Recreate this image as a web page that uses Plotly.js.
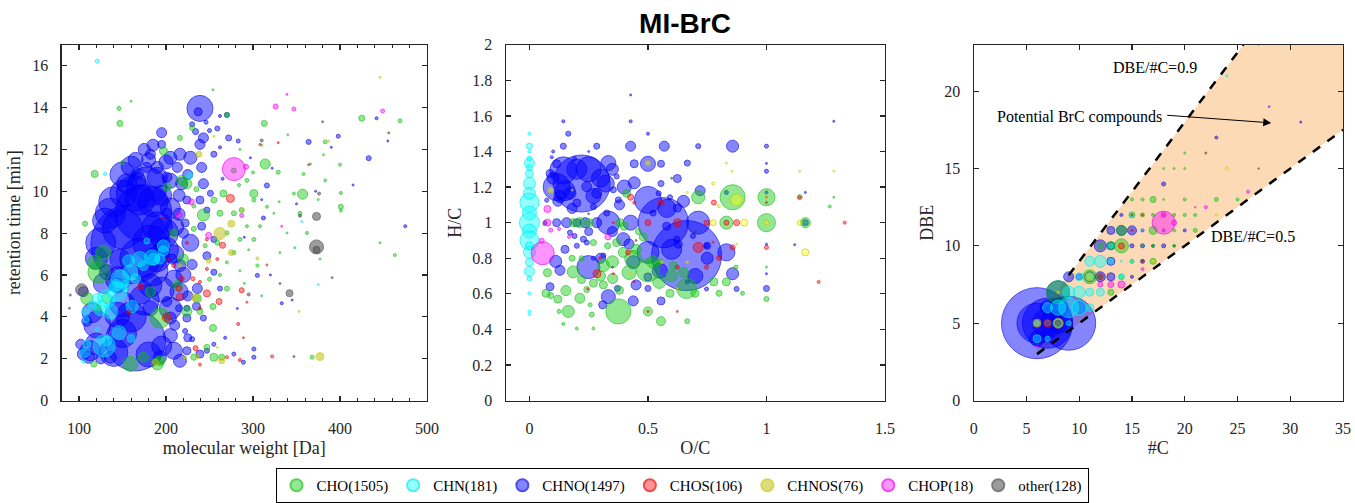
<!DOCTYPE html>
<html>
<head>
<meta charset="utf-8">
<script src="https://cdn.plot.ly/plotly-3.0.1.min.js"></script>
<style>html,body{margin:0;padding:0;background:#fff;}#chart{width:1355px;height:503px;}</style>
</head>
<body>
<div id="chart"></div>
<script>
// ---- categories ----
const SERIES = ['CHO','CHN','CHNO','CHOS','CHNOS','CHOP','other'];
const COUNTS = [1505,181,1497,106,76,18,128];

// ---- Panel 1: [molecular weight (Da), retention time (min), relative abundance] ----
const MW_RT_CHNO = [[159,7.47,79],[174,8.95,57],[178,10.2,40],[165,2.85,60],[151,9.89,27],[121,3.63,27],[113,2.38,20],[239,13.96,26],[237,13.8,8],[190,10.67,20],[197,8.01,30],[182,5.5,23],[209,5.82,17],[228,7.54,17],[216,11.77,12],[228,11.6,13],[205,11.6,13],[239,12.24,10],[243,12.55,10],[241,11.14,10],[167,10.5,17],[216,1.9,13],[209,2.38,17],[193,2.07,13],[105,2.22,12],[224,2.38,8],[239,2.22,8],[247,2.38,5],[255,2.69,4],[236,5.35,10],[241,8.33,8],[247,9.1,6],[251,9.9,6],[255,11.77,6],[272,12.55,6],[270,13.65,5],[259,13.0,5],[230,13.2,5],[283,12.4,4],[301,2.07,4],[301,2.46,4],[289,1.83,4],[278,2.22,4],[305,5.98,4],[316,10.28,5],[312,8.72,4],[364,12.36,5],[398,12.63,4],[433,11.58,5],[442,13.49,3],[475,8.33,3],[333,4.65,3],[222,3.32,5],[230,2.93,5],[224,4.41,6],[215,4.41,7],[201,4.73,10],[207,6.76,10],[216,6.45,12],[222,8.48,8],[201,8.95,10],[224,9.58,8],[201,10.67,10],[213,11.14,10],[190,11.14,12],[182,11.77,10],[195,12.24,8],[243,10.36,10],[239,9.58,8],[247,6.92,8],[255,6.13,6],[262,5.35,5],[255,7.7,6],[243,3.94,6],[224,3.94,8],[205,3.94,12],[182,4.41,15],[144,5.5,15],[132,6.13,15],[147,6.76,20],[105,5.2,10],[109,3.79,10],[111,2.07,12],[102,2.69,10],[125,1.99,10],[136,2.07,12],[167,10.83,12],[178,11.14,10],[218,10.36,12],[155,10.36,20],[170,9.58,30],[136,8.95,30],[125,7.54,30],[182,7.54,35],[190,6.76,25],[170,5.2,25],[144,4.1,25],
  [140,9.5,30],[150,10.8,25],[160,11.2,20],[185,9.5,30],[195,9.8,20],[205,9.2,20],[210,8.3,18],[200,7.2,25],[185,6.2,30],[175,4.8,30],[160,4.0,30],[150,4.6,25],[195,5.3,25],[205,4.4,22],[215,5.2,18],[220,6.0,15],[210,7.0,18],[165,11.5,15],[185,12.2,12],[195,12.8,10],[175,12.0,12],[130,8.6,25],[120,6.8,22],[128,5.6,20],[115,4.2,20],[120,2.7,22],[140,2.3,28],[180,2.2,25],[195,2.6,20],[150,3.2,28],[205,3.1,14],[170,6.8,40],[150,8.2,40],[190,8.3,30],[163,9.9,35],[145,5.8,25],[205,10.5,15],[215,9.8,12],[225,10.8,10],[215,8.9,12],[220,8.0,10],[225,5.0,10],[230,6.5,10],[235,4.5,8],[210,3.6,10],[225,3.0,8],[200,11.4,14],[180,11.5,14],
  [290,7.8,2],[320,6.0,2],[345,4.8,2],[310,9.6,2],[350,9.4,2],[297,11.6,2],[322,11.1,2],[372,10.0,2],[390,12.1,2],[415,10.3,2],[455,12.4,2],[265,10.6,3],[262,12.1,3],[268,3.0,3],[282,4.4,2],[250,12.9,4],[234,12.85,6],[246,13.3,4],[262,13.6,3]];
const MW_RT_CHO = [[118,10.83,7],[107,8.45,5],[147,13.24,6],[146,13.96,4],[150,11.38,4],[160,14.3,2],[254,14.85,2],[270,13.65,5],[313,13.24,6],[314,11.3,10],[329,10.91,4],[357,9.86,10],[301,9.89,8],[425,13.49,6],[469,13.37,4],[400,11.27,3],[401,9.92,3],[401,9.26,5],[401,9.08,3],[383,12.36,4],[383,10.52,3],[358,10.83,3],[381,11.74,2],[366,11.3,2],[463,6.95,3],[285,7.7,4],[287,9.1,5],[254,3.47,7],[254,4.49,6],[270,5.35,5],[243,8.87,12],[123,6.13,22],[128,7.07,15],[193,3.94,20],[193,1.9,10],[159,1.75,15],[218,10.52,10],[201,10.2,8],[224,10.36,10],[209,8.01,8],[220,6.76,10],[213,5.5,10],[182,5.2,10],[224,4.26,10],[236,4.88,8],[239,4.26,6],[109,4.88,12],[121,4.41,8],[197,11.93,8],[216,12.55,5],[230,13.02,5],[255,9.58,6],[262,8.95,6],[266,9.89,7],[278,10.99,5],[278,8.95,5],[293,10.52,4],[301,9.58,4],[293,8.33,3],[301,7.7,4],[308,8.33,3],[305,6.45,3],[316,9.26,3],[331,7.07,2],[324,8.95,2],[339,8.01,2],[347,9.89,3],[354,8.95,4],[362,8.01,3],[377,6.76,2],[368,2.07,4],[255,2.07,8],[264,2.07,6],[247,2.54,6],[232,2.07,6],[190,1.75,12],[174,2.07,10],[132,4.88,10],[117,1.75,6],[446,7.54,2],[270,8.01,4],[278,7.07,4],[259,7.54,5],
  [118,6.6,14],[262,6.0,3],[270,6.6,3],[285,6.2,2],[295,7.2,2],[290,5.6,2],[310,5.0,2],[250,5.8,4],[245,7.4,4],[232,8.2,5],[232,9.3,4],[284,10.3,3],[300,10.9,3],[310,12.2,2],[285,12.0,2],[340,12.7,2],[375,9.6,2],[330,9.5,2],[348,7.3,2],[235,10.1,5]];
const MW_RT_CHN = [[121,16.21,4],[130,10.83,3],[178,7.62,6],[197,7.39,12],[184,6.84,15],[170,6.76,15],[157,6.68,12],[159,6.13,15],[147,5.82,18],[144,5.2,20],[132,4.88,18],[125,4.41,15],[136,4.26,15],[161,4.49,12],[146,3.24,14],[160,2.97,8],[129,2.61,22],[107,2.3,10],[108,4.26,8],[108,3.87,6],[121,3.4,5],[227,10.75,6],[207,11.77,2],[375,5.54,2],[356,8.56,2],[142,5.5,12],[153,5.5,10],[165,5.82,10],[174,6.45,10],[186,6.76,12],[193,6.76,10],[121,4.88,10],[115,4.57,8],[132,2.85,10],[109,2.69,8],[105,1.9,4],[197,7.15,10]];
const MW_RT_CHOS = [[274,9.66,8],[265,7.42,6],[261,4.73,6],[247,5.12,7],[287,5.27,5],[201,3.97,9],[234,2.5,5],[216,4.96,7],[215,5.35,6],[171,5.45,6],[157,4.21,4],[218,5.82,5],[209,6.45,4],[231,5.82,4],[239,5.67,3],[247,6.29,3],[283,3.66,3],[285,1.94,3],[270,2.07,3],[239,1.72,3],[322,2.11,3],[316,6.48,2],[364,11.27,2],[308,12.24,2],[329,12.32,2],[293,4.7,2],[197,8.72,2],[224,7.54,3],[259,6.76,3],[247,7.7,3],[203,6.76,3],[239,4.41,3],[289,3.0,2]];
const MW_RT_CHNOS = [[262,7.98,12],[275,8.45,7],[275,7.07,6],[377,2.1,8],[238,11.77,6],[234,4.91,8],[249,6.68,5],[264,1.9,6],[188,1.83,6],[236,2.1,4],[305,6.79,3],[222,2.07,3],[288,9.1,3],[255,12.63,2],[446,15.45,2],[353,4.26,2],[259,2.54,2],[216,6.45,3],[387,12.4,2]];
const MW_RT_CHOP = [[278,11.06,23],[292,11.17,5],[229,9.5,6],[215,8.87,6],[249,7.89,6],[287,8.84,4],[326,14.05,5],[347,13.93,4],[449,13.83,4],[339,14.63,2],[333,8.33,2]];
const MW_RT_OTHER = [[373,7.34,14],[373,7.2,7],[373,8.8,8],[342,5.13,7],[103,5.29,12],[376,9.89,3],[354,8.83,3],[310,12.43,3],[295,5.07,3],[347,2.1,2],[391,5.87,2],[90,5.04,2],[89,4.41,2],[456,12.79,2],[331,5.59,2],[380,13.32,2]];

// ---- Panel 2: [O/C, H/C, relative abundance] ----
const OC_HC_CHNO = [[0.22,1.22,57],[0.663,0.815,70],[0.565,1.0,50],[0.5,1.128,27],[0.712,1.0,23],[0.143,1.294,27],[0.115,1.2,27],[0.333,1.0,23],[0.249,0.75,23],[0.5,0.833,22],[0.322,1.22,17],[0.333,1.335,15],[0.427,1.0,15],[0.396,0.907,13],[0.438,0.778,13],[0.5,1.331,15],[0.427,1.43,10],[0.569,1.43,10],[0.857,1.43,12],[0.857,0.713,12],[0.831,0.833,17],[0.442,1.224,12],[0.442,1.331,8],[0.555,1.331,7],[0.624,1.248,8],[0.666,1.335,6],[0.712,1.43,5],[1.0,1.43,4],[1.0,1.289,4],[1.0,1.333,2],[1.0,1.17,3],[1.164,1.17,2],[1.164,1.0,6],[1.0,0.63,6],[0.143,1.43,6],[0.284,1.43,6],[0.164,1.5,5],[0.143,1.57,3],[0.5,1.5,3],[0.427,1.57,3],[0.427,1.718,2],[1.284,1.57,2],[0.157,1.0,10],[0.115,1.0,8],[0.2,1.0,8],[0.235,1.0,10],[0.284,1.0,10],[0.066,1.0,4],[0.111,0.782,12],[0.129,0.732,10],[0.087,0.64,8],[0.333,0.584,14],[0.438,0.56,10],[0.555,0.56,8],[0.5,0.695,8],[0.5,0.63,6],[0.309,0.538,8],[0.371,0.63,6],[0.312,0.815,5],[0.242,0.888,5],[0.27,0.8,4],[0.171,0.944,5],[0.2,0.87,5],[0.228,0.907,6],[0.19,0.925,5],[0.747,0.87,5],[0.874,0.627,5],[0.747,0.627,4],[0.593,1.143,5],[0.545,1.165,5],[0.624,1.082,8],[0.522,1.054,6],[0.555,1.22,6],[0.375,1.128,6],[0.368,1.26,5],[0.354,1.185,6],[0.284,1.165,10],[0.087,1.276,8],[0.115,1.331,8],[0.242,1.202,10],[0.171,1.165,12],[0.129,1.147,12],[0.2,1.11,8],[0.27,1.09,6],[0.326,1.054,6],[0.073,1.126,4],[0.094,1.368,3],[0.831,1.17,4],[0.621,0.907,6],[0.69,0.925,5],[0.75,0.87,7],[0.666,0.667,4],[0.579,0.98,8],[0.628,0.879,8],[1.119,0.876,2],[1.0,0.879,2],[1.0,0.713,2],[0.1,1.4,3],[0.19,1.36,4],[0.25,1.4,2],
  [0.15,1.18,20],[0.2,1.3,20],[0.3,1.25,18],[0.27,1.15,15],[0.1,1.25,12],[0.35,1.3,12],[0.4,1.2,14],[0.38,1.1,10],[0.18,1.08,10],[0.25,1.3,25],[0.12,1.12,10],[0.3,0.8,10],[0.35,0.95,10],[0.42,0.88,10],[0.25,0.95,8],[0.15,0.85,8],[0.45,0.65,10],[0.55,0.73,15],[0.6,0.85,20],[0.7,0.7,15],[0.75,0.8,12],[0.58,1.08,18],[0.65,1.12,12],[0.72,1.18,10]];
const OC_HC_CHO = [[0.375,0.501,25],[0.857,1.143,25],[1.0,1.143,17],[1.0,1.0,18],[0.831,1.0,13],[0.712,1.143,13],[0.555,0.446,9],[0.666,0.446,5],[0.5,0.501,9],[0.164,0.501,12],[0.213,0.575,10],[0.154,0.618,10],[0.07,0.603,8],[0.076,0.719,8],[0.548,0.667,13],[0.663,0.63,20],[0.5,0.732,23],[0.438,0.796,17],[0.396,0.833,10],[0.351,0.686,10],[0.312,0.759,12],[0.185,0.723,12],[0.213,1.0,10],[0.252,1.0,8],[0.185,1.0,8],[0.382,1.0,8],[0.368,0.888,8],[0.41,1.165,8],[0.27,0.888,6],[0.312,0.65,8],[0.242,0.624,6],[0.263,0.483,5],[0.2,0.405,3],[0.27,0.405,3],[0.143,0.431,3],[0.125,0.501,4],[0.256,0.538,4],[0.593,0.603,8],[0.698,0.603,8],[0.778,0.667,8],[0.831,0.667,8],[0.8,0.603,6],[0.899,0.603,4],[1.0,0.571,5],[1.164,1.0,10],[1.14,1.143,5],[1.284,1.143,2],[1.267,1.091,3],[0.871,0.75,4],[1.0,0.75,2],[0.063,0.991,3],[0.55,0.78,6],[0.607,0.759,8],[0.46,0.95,6],[0.33,0.87,6],[0.22,0.8,5],
  [0.3,0.7,10],[0.35,0.78,12],[0.42,0.72,14],[0.45,0.85,10],[0.27,0.66,8],[0.22,0.68,8],[0.38,0.62,8],[0.18,0.8,6],[0.52,0.78,12],[0.6,0.7,12],[0.65,0.72,10],[0.4,0.98,8],[0.48,0.92,8],[0.12,0.57,8],[0.09,0.59,6]];
const OC_HC_CHN = [[0,1.5,3],[0,1.43,6],[0,1.36,5],[0,1.335,10],[0,1.276,8],[0,1.22,12],[0,1.165,12],[0,1.113,19],[0,1.054,14],[0,1.0,20],[0,0.953,14],[0,0.9,19],[0,0.833,12],[0,0.778,8],[0,0.726,10],[0,0.686,5],[0,0.603,3],[0,0.5,3],[0,0.483,2],[0,1.4,3],[0,1.31,6],[0,0.87,8]];
const OC_HC_CHOS = [[0.624,1.0,8],[0.5,1.0,6],[0.712,0.861,10],[0.747,1.0,5],[0.831,1.0,5],[0.874,1.0,6],[0.778,1.113,5],[0.555,1.113,6],[0.427,1.143,6],[0.442,1.113,3],[0.285,0.713,8],[0.417,0.833,5],[0.857,0.861,5],[0.8,0.802,5],[0.624,0.75,4],[0.747,0.75,4],[1.0,0.861,4],[1.0,1.143,2],[1.0,1.113,2],[1.14,1.143,3],[1.33,1.0,3],[1.22,0.667,3],[0.624,0.501,2],[0.5,0.501,2],[0.246,0.627,2],[0.441,0.667,2],[0.775,0.89,2],[0.298,0.8,3],[0.354,0.713,2],[0.354,1.0,2]];
const OC_HC_CHNOS = [[0.874,1.128,12],[0.906,1.0,7],[0.775,1.0,6],[1.0,1.0,5],[1.14,1.0,5],[1.164,0.833,7],[0.5,1.335,5],[0.09,1.183,6],[0.558,0.778,3],[0.427,0.713,3],[0.831,1.335,2],[0.855,1.289,2],[0.775,1.22,3],[0.799,1.093,3],[1.284,1.289,2],[1.14,1.289,2],[0.666,1.17,2],[0.181,1.183,2],[0.666,0.778,3],[0.624,0.63,2],[1.0,1.143,2],[0.874,0.879,2]];
const OC_HC_CHOP = [[0.056,0.828,23],[0.076,1.077,7],[0.076,1.0,7],[0.09,0.958,4],[0.052,0.898,5],[0.331,0.92,6],[0.125,0.965,3],[0.167,0.92,3],[0.18,0.93,2]];
const OC_HC_OTHER = [[0.25,1.05,2],[0.45,0.9,2],[0.6,1.25,2],[0.35,0.75,2],[0.7,0.95,2]];

// ---- Panel 3: [#C, DBE, relative abundance] ----
const C_DBE_CHNO = [[6,5,71],[9,5,54],[7,5,50],[8,7,23],[8,6,20],[9,8,10],[12,10,12],[13,10,8],[14,11,10],[15,11,9],[13,11,8],[12,8,10],[13,8,8],[10,8,6],[11,8,10],[13,9,8],[15,10,4],[16,10,4],[18,10,4],[16,11,3],[18,14,4],[23,17,3],[31,18,2],[28,19,1.5],[14,12,3],[15,8,3],[20,11,3],[16,9,4],[17,10,3],[19,10,2],[7,6,15],[6,4,15],[8,5,20],[10,6,12],[7,5,30],[6,5,40]];
const C_DBE_CHO = [[14,10,14],[14,11,10],[17,11,8],[8,7,23],[13,7,6],[15,12,6],[16,12,4],[17,13,6],[15,13,3],[16,13,3],[18,13,2],[20,13,3],[23,13,4],[25,13,3],[17,12,3],[19,12,3],[20,12,3],[21,12,3],[19,11,3],[21,11,4],[17,10,3],[19,10,3],[16,10,3],[15,9,4],[17,9,6],[16,9,3],[18,15,2],[19,15,2],[20,15,2],[20,16,2],[11,8,14],[13,10,8],[12,10,6],[14,8,5]];
const C_DBE_CHN = [[9,6,20],[8,6,15],[10,6,15],[7,6,10],[11,6,8],[10,7,12],[9,7,12],[11,7,8],[12,7,8],[6,4,8],[7,4,5],[6,5,5],[7,5,6],[8,5,8],[9,5,5],[11,9,10],[12,9,12],[13,9,6],[10,8,8],[11,8,8],[14,8,6],[13,10,5],[15,12,4],[12,8,5],[24,21,2],[27,23,2],[16,11,2],[18,11,2],[15,9,3],[14,9,2]];
const C_DBE_CHOS = [[14,10,6],[7,5,8],[12,8,6],[15,12,2],[16,12,2],[18,12,2],[15,11,2],[16,9,2]];
const C_DBE_CHNOS = [[6,5,8],[8,5,10],[11,8,8],[8,7,3],[17,9,3],[23,12,2],[24,15,3],[18,12,2]];
const C_DBE_CHOP = [[18,11.5,23],[19,11.5,5],[18,12,5],[18,11,3],[13,7.5,6],[14,7.5,7],[12,7.5,5],[16,8.5,3],[26,13.5,3],[22,12.5,3],[21,12.5,1.5],[6,3.5,2]];
const C_DBE_OTHER = [[8,5,6],[22,16,2],[27,15,1.5],[12,8,3]];

// BrC guideline ratios (DBE/#C)
const BRC_RATIOS = [0.5, 0.9];
const BRC_C = [6, 35];

// ---- styles ----
const SERIF = "Liberation Serif, Times New Roman, serif";
const STYLE = {
  CHO:   {fill:'rgba(0,200,0,0.6)',   line:'rgb(20,190,20)',  rank:1},
  CHN:   {fill:'rgba(0,255,255,0.6)', line:'rgb(0,235,245)',  rank:2},
  CHNO:  {fill:'rgba(0,0,255,0.68)',  line:'rgb(0,0,235)',    rank:3},
  CHOS:  {fill:'rgba(255,0,0,0.6)',   line:'rgb(235,0,0)',    rank:4},
  CHNOS: {fill:'rgba(255,255,0,0.6)', line:'rgb(200,200,0)',  rank:5},
  CHOP:  {fill:'rgba(255,0,255,0.6)', line:'rgb(235,0,235)',  rank:6},
  other: {fill:'rgba(80,80,80,0.8)',  line:'rgb(70,70,70)',   rank:7}
};
const P1_CHNOS_FILL = 'rgba(190,190,20,0.75)';

const PANELS = [
  {xa:'x',  ya:'y',  data:{CHNO:MW_RT_CHNO, CHO:MW_RT_CHO, CHN:MW_RT_CHN, CHOS:MW_RT_CHOS, CHNOS:MW_RT_CHNOS, CHOP:MW_RT_CHOP, other:MW_RT_OTHER}},
  {xa:'x2', ya:'y2', data:{CHNO:OC_HC_CHNO, CHO:OC_HC_CHO, CHN:OC_HC_CHN, CHOS:OC_HC_CHOS, CHNOS:OC_HC_CHNOS, CHOP:OC_HC_CHOP, other:OC_HC_OTHER}},
  {xa:'x3', ya:'y3', data:{CHNO:C_DBE_CHNO, CHO:C_DBE_CHO, CHN:C_DBE_CHN, CHOS:C_DBE_CHOS, CHNOS:C_DBE_CHNOS, CHOP:C_DBE_CHOP, other:C_DBE_OTHER}}
];
const DRAW_ORDER = ['CHNO','CHO','CHN','CHOS','CHNOS','CHOP','other'];

const traces = [];

// BrC region fill (panel 3) built from the guideline ratios
const cTop = 23 / BRC_RATIOS[1];
traces.push({
  x:[BRC_C[0], BRC_C[1], BRC_C[1], cTop, BRC_C[0]],
  y:[BRC_RATIOS[0]*BRC_C[0], BRC_RATIOS[0]*BRC_C[1], 23, 23, BRC_RATIOS[1]*BRC_C[0]],
  xaxis:'x3', yaxis:'y3', mode:'lines', fill:'toself', fillcolor:'rgb(252,218,181)',
  line:{width:0, color:'rgba(0,0,0,0)'}, showlegend:false, hoverinfo:'skip'
});

PANELS.forEach((p, pi) => {
  DRAW_ORDER.forEach(name => {
    const arr = p.data[name];
    const st = STYLE[name];
    const idx = SERIES.indexOf(name);
    traces.push({
      type:'scatter', mode:'markers',
      x: arr.map(d=>d[0]), y: arr.map(d=>d[1]),
      xaxis:p.xa, yaxis:p.ya,
      name: name + '(' + COUNTS[idx] + ')',
      legendrank: st.rank,
      showlegend: pi === 0,
      marker:{
        size: arr.map(d=>d[2]), sizemode:'diameter', sizeref:1,
        color: (pi===0 && name==='CHNOS') ? P1_CHNOS_FILL : st.fill,
        line:{color:st.line, width:1}
      }
    });
  });
});

// dashed guideline lines
traces.push({x:[BRC_C[0], BRC_C[1]], y:[BRC_RATIOS[0]*BRC_C[0], BRC_RATIOS[0]*BRC_C[1]],
  xaxis:'x3', yaxis:'y3', mode:'lines', line:{color:'#000', width:2.5, dash:'dash'}, showlegend:false, hoverinfo:'skip'});
traces.push({x:[9, cTop], y:[BRC_RATIOS[1]*9, 23],
  xaxis:'x3', yaxis:'y3', mode:'lines', line:{color:'#000', width:2.5, dash:'dash'}, showlegend:false, hoverinfo:'skip'});

const TFONT = {family:SERIF, size:18, color:'#262626'};
function axis(extra){
  return Object.assign({
    showline:true, linecolor:'#262626', linewidth:1.2, mirror:'allticks',
    ticks:'inside', ticklen:5, tickwidth:1.2, tickcolor:'#262626',
    showgrid:false, zeroline:false,
    tickfont:{family:SERIF, size:16, color:'#262626'}
  }, extra);
}
const YB = 96/503, YT = (503-45.5)/503;

const layout = {
  width:1355, height:503,
  margin:{l:0, r:0, t:0, b:0},
  paper_bgcolor:'#fff', plot_bgcolor:'#fff',
  title:{text:'<b>MI-BrC</b>', font:{family:"Liberation Sans, Arial, sans-serif", size:28, color:'#000'},
         x:685/1355, xanchor:'center', xref:'paper', y:1-23/503, yanchor:'middle', yref:'container'},
  xaxis: axis({domain:[61.6/1355, 427/1355], anchor:'y', range:[80,500], dtick:100, tick0:0, ticklabelstandoff:13,
               minor:{ticks:'inside', dtick:20, ticklen:3, tickcolor:'#262626'},
               title:{text:'molecular weight [Da]', standoff:5, font:TFONT}}),
  yaxis: axis({domain:[YB, YT], anchor:'x', range:[0,17], dtick:2, ticklabelstandoff:9,
               title:{text:'retention time [min]', standoff:6, font:TFONT}}),
  xaxis2: axis({domain:[505.7/1355, 885/1355], anchor:'y2', range:[-0.1,1.5], dtick:0.5, tick0:0, ticklabelstandoff:13,
               title:{text:'O/C', standoff:5, font:TFONT}}),
  yaxis2: axis({domain:[YB, YT], anchor:'x2', range:[0,2], dtick:0.2, ticklabelstandoff:9,
               title:{text:'H/C', standoff:6, font:TFONT}}),
  xaxis3: axis({domain:[973.7/1355, 1343/1355], anchor:'y3', range:[0,35], dtick:5, ticklabelstandoff:13,
               title:{text:'#C', standoff:5, font:TFONT}}),
  yaxis3: axis({domain:[YB, YT], anchor:'x3', range:[0,23], dtick:5, ticklabelstandoff:9,
               title:{text:'DBE', standoff:6, font:TFONT}}),
  legend:{orientation:'h', x:682/1355, xanchor:'center', y:27/503, yanchor:'top',
          bordercolor:'#000', borderwidth:1, bgcolor:'#fff', itemsizing:'constant',
          font:{family:SERIF, size:15, color:'#000'}, traceorder:'normal', itemwidth:30},
  annotations:[
    {xref:'x3', yref:'y3', x:17.2, y:21.5, text:'DBE/#C=0.9', showarrow:false, font:{family:SERIF, size:16, color:'#000'}},
    {xref:'x3', yref:'y3', x:10.0, y:18.35, text:'Potential BrC compounds', showarrow:false, font:{family:SERIF, size:16, color:'#000'}},
    {xref:'x3', yref:'y3', x:26.5, y:10.6, text:'DBE/#C=0.5', showarrow:false, font:{family:SERIF, size:16, color:'#000'}},
    {xref:'x3', yref:'y3', axref:'x3', ayref:'y3', x:28.2, y:17.95, ax:18.2, ay:18.45, text:'',
     showarrow:true, arrowhead:2, arrowsize:1.6, arrowwidth:1, arrowcolor:'#000', standoff:0, startstandoff:0}
  ],
  showlegend:true
};

Plotly.newPlot('chart', traces, layout, {displayModeBar:false, staticPlot:true});
</script>
</body>
</html>
